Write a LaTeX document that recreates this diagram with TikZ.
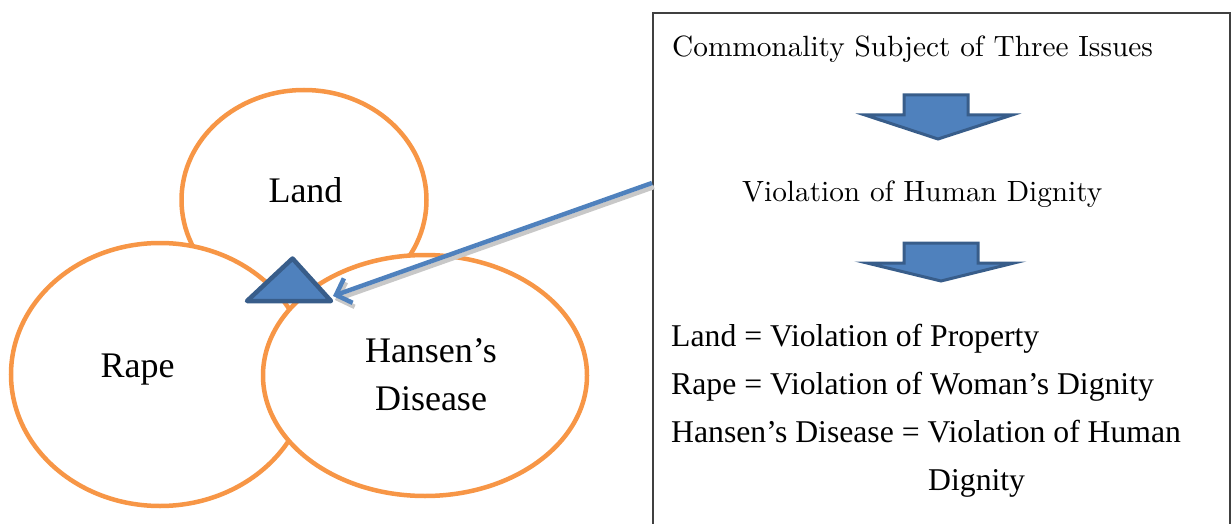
\documentclass[tikz,border=0pt]{standalone}
\usepackage{fontspec}
\newfontfamily\tnr{Liberation Serif}
\newfontfamily\headfont{lmroman10-regular.otf}
\usetikzlibrary{arrows.meta,shapes.geometric}
\definecolor{ringorange}{HTML}{F79646}
\definecolor{shapeblue}{HTML}{4F81BD}
\definecolor{shapeedge}{HTML}{385D8A}
\definecolor{framegray}{HTML}{404040}
\definecolor{shadowgray}{HTML}{C8C8C8}
\begin{document}
\begin{tikzpicture}[x=1pt,y=-1pt,
  ring/.style={ellipse,draw=ringorange,line width=4.5pt,fill=white,inner sep=0pt},
  bigword/.style={font=\tnr\fontsize{36}{48}\selectfont,inner sep=0pt,anchor=base},
  boxline/.style={font=\tnr\fontsize{31.7}{40}\selectfont,inner sep=0pt,anchor=base west},
  boxhead/.style={font=\headfont\fontsize{29.3}{36}\selectfont,inner sep=0pt,anchor=base west},
  blockarrow/.style={fill=shapeblue,draw=shapeedge,line width=3pt,line join=miter},
  link/.style={line width=4.5pt,-{Straight Barb[length=13pt,width=26pt]}}]
\useasboundingbox (0,0) rectangle (1232,524);
\clip (0,0) rectangle (1232,524);

% three overlapping issue rings
\node[ring,minimum width=245pt,minimum height=220pt] (land) at (304,200) {};
\node[ring,minimum width=298pt,minimum height=263pt] (rape) at (160,374.5) {};
\node[ring,minimum width=324pt,minimum height=241pt] (hansen) at (425,375.5) {};

\node[bigword] (landlbl) at (305.5,203) {Land};
\node[bigword] (rapelbl) at (137.5,377) {Rape};
\node[bigword] (hansenlbl) at (431,362) {Hansen’s};
\node[bigword] (diseaselbl) at (431,410) {Disease};

% common core marker
\filldraw[fill=shapeblue,draw=shapeedge,line width=4.5pt,line join=round]
  (247,301) -- (292.5,258.5) -- (331,301) -- cycle;
\coordinate (core) at (333,296);

% explanation panel
\node[draw=framegray,line width=2pt,anchor=north west,inner sep=0pt,
      minimum width=577pt,minimum height=600pt] (panel) at (652,12) {};
\coordinate (src) at (652,183);

% connector from panel to core, with its soft shadow
\draw[link,shadowgray] ([shift={(2,4)}]src) -- ([shift={(2,4)}]core);
\draw[link,shapeblue] (src) -- (core);

\node[boxhead] (head) at (672,57) {Commonality Subject of Three Issues};
\filldraw[blockarrow]
  (904,95) -- (968,95) -- (968,115) -- (1012,115) -- (938,139) -- (865,115) -- (904,115) -- cycle;
\node[boxhead] (violation) at (742,201) {Violation of Human Dignity};
\filldraw[blockarrow]
  (904,243) -- (978,243) -- (978,263) -- (1014,263) -- (941,281) -- (867,263) -- (904,263) -- cycle;

\node[boxline] (l1) at (671,346) {Land = Violation of Property};
\node[boxline] (l2) at (671,394) {Rape = Violation of Woman’s Dignity};
\node[boxline] (l3) at (671,442) {Hansen’s Disease = Violation of Human};
\node[boxline] (l4) at (928,490) {Dignity};
\end{tikzpicture}
\end{document}
